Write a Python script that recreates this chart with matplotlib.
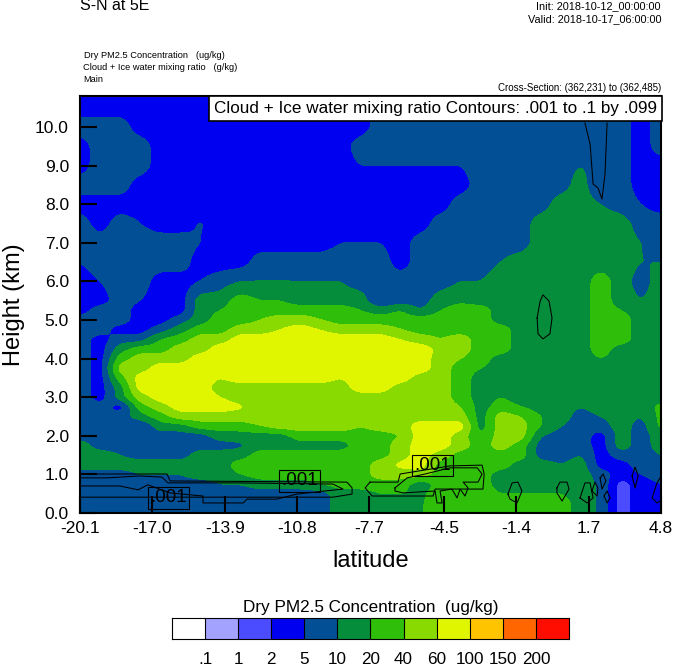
import numpy as np
import matplotlib
matplotlib.use('Agg')
import matplotlib.pyplot as plt

plt.rcParams['font.family'] = ['Liberation Sans', 'DejaVu Sans']

# Colour bar classes
level_values = [0.1, 1, 2, 5, 10, 20, 40, 60, 100, 150, 200]
level_labels = ['.1', '1', '2', '5', '10', '20', '40', '60', '100', '150', '200']
band_colors = ['#ffffff', '#a3a3ff', '#4b4bff', '#0000f0', '#024f96', '#068d3c',
               '#2fbe0a', '#88da00', '#e0f500', '#ffc400', '#ff6600', '#ff0d00']

# Typical concentration for each class
P, B, D, G, L, M, Y = 1.5, 3.5, 7.5, 15, 30, 50, 80

heights = [0, 0.25, 0.5, 0.75, 1, 1.25, 1.5, 1.75, 2, 2.25, 2.5, 2.75, 3, 3.25, 3.5, 3.75, 4,
           4.25, 4.5, 4.75, 5, 5.25, 5.5, 6, 6.5, 7, 7.5, 8, 8.5, 9, 9.5, 10, 10.5, 10.8]
lat_first, lat_last = -20.1, 4.8

# Vertical profiles of PM2.5, one per latitude column, bottom to top
pm_00 = [D, D, D, D, D, G, G, G, D, D, D, D, D, D, D, D, D, D, D, D, D, B, B, B, 5, D, D, B, D, B, B, D, B, B]
pm_01 = [D, D, D, D, D, G, G, D, D, D, D, D, B, B, B, B, B, B, B, D, D, D, B, 5, D, D, B, B, D, D, D, D, B, B]
pm_02 = [D, D, D, D, D, G, 10, D, D, D, D, B, G, G, L, M, L, G, D, B, D, D, D, D, D, D, D, B, D, D, D, D, B, B]
pm_03 = [D, D, D, D, 10, G, D, D, D, 4.8, G, L, M, Y, Y, M, M, L, D, B, B, B, 5, D, D, D, 5, B, B, D, D, B, B, B]
pm_04 = [D, D, D, D, 10, G, D, D, D, G, L, M, Y, Y, Y, Y, M, L, 20, D, B, B, B, B, D, D, B, B, B, B, B, B, B, B]
pm_05 = [D, D, D, D, 10, G, D, D, D, G, M, Y, Y, Y, Y, Y, M, M, L, G, D, B, B, B, D, D, B, B, B, B, B, B, B, B]
pm_06 = [D, D, D, D, G, G, G, D, D, L, M, Y, Y, Y, Y, Y, Y, M, M, L, G, G, G, 5, B, 5, 5.5, B, B, B, B, B, B, B]
pm_07 = [D, D, D, 10, G, G, G, D, G, L, M, Y, 60, M, 60, Y, Y, Y, M, L, L, 20, G, D, B, B, B, B, B, B, B, B, B, B]
pm_08 = [D, D, D, 10, 20, L, G, 9, G, L, M, 65, M, M, Y, Y, Y, Y, Y, M, L, L, L, 10, B, B, B, B, B, B, B, B, B, B]
pm_09 = [D, D, D, G, L, L, L, G, G, 40, M, M, M, M, Y, Y, Y, Y, Y, M, 40, L, 20, 10, D, B, B, B, B, B, B, B, B, B]
pm_10 = [D, D, D, G, L, L, L, G, G, M, M, M, M, M, Y, Y, Y, Y, Y, 60, M, L, 20, 10, D, B, B, B, B, B, B, B, B, B]
pm_11 = [D, D, D, G, L, L, L, G, L, M, M, M, M, M, Y, Y, Y, Y, Y, Y, M, L, G, 10, D, B, B, B, B, B, B, B, B, B]
pm_12 = [D, D, D, 20, L, L, L, G, L, M, M, M, M, M, Y, Y, Y, Y, Y, 60, 40, L, G, 10, D, B, B, B, B, B, B, B, B, B]
pm_13 = [G, G, G, L, L, L, L, G, L, M, M, M, M, M, 60, Y, Y, Y, Y, M, L, L, G, 10, D, 5, B, B, B, B, B, B, B, B]
pm_14 = [G, G, G, L, L, L, L, L, L, 40, M, M, M, Y, Y, Y, Y, Y, Y, M, L, 20, G, D, D, 5, B, B, B, 5, D, B, B, B]
pm_15 = [G, G, 20, L, M, M, L, L, L, M, M, M, M, Y, Y, Y, Y, Y, Y, M, L, G, 4.8, D, D, 5, B, B, B, 5, D, D, D, D]
pm_16 = [G, G, 20, L, M, 70, M, M, 40, M, M, M, M, M, Y, Y, Y, Y, 60, 40, L, 20, D, D, B, B, B, B, B, 5, D, D, D, D]
pm_17 = [19, 19, 18, 13, M, Y, Y, Y, Y, Y, M, M, M, M, M, Y, Y, Y, M, L, L, 10, D, D, D, D, B, B, B, 5, D, D, D, D]
pm_18 = [L, L, L, L, L, L, M, Y, Y, Y, M, M, M, M, M, M, M, 55, 40, L, L, 20, G, D, D, D, D, B, B, 5, D, D, D, D]
pm_19 = [L, L, L, L, L, L, L, M, M, Y, M, 40, L, L, L, L, 40, M, M, L, L, L, 18, 10, D, D, D, D, B, 5, D, D, D, D]
pm_20 = [L, L, L, L, L, L, L, L, 20, G, G, G, G, G, G, 20, L, L, L, L, L, L, G, 10, D, D, D, D, D, D, D, D, D, D]
pm_21 = [L, L, 20, G, G, L, L, M, M, M, M, L, 20, G, G, G, G, L, L, L, G, G, G, G, 10, D, D, D, D, D, D, D, D, D]
pm_22 = [L, L, 20, G, G, G, L, L, M, M, 40, 20, G, G, G, G, G, G, G, G, G, G, G, G, G, D, D, D, D, D, D, D, D, D]
pm_23 = [L, L, 20, G, G, G, D, D, 10, 20, 20, G, G, G, G, G, G, G, G, G, G, G, G, G, G, G, G, D, D, D, D, D, D, D]
pm_24 = [L, L, 20, G, G, 10, D, D, D, 10, G, G, G, G, G, G, G, G, G, G, G, G, G, G, G, G, G, G, D, D, D, D, D, D]
pm_25 = [G, G, G, G, G, G, 10, D, D, D, D, 10, G, G, G, G, G, G, G, G, G, G, G, G, G, G, G, G, G, 10, D, D, D, D]
pm_26 = [9, 9, 9, 9, D, B, B, B, B, D, 10, G, G, G, G, G, 20, L, L, L, L, L, L, L, G, G, G, 10, 4.6, D, D, D, D, D]
pm_27 = [P, P, P, P, B, B, D, G, G, G, G, G, G, G, G, G, G, G, L, L, L, 20, G, G, G, G, G, D, D, D, D, D, D, D]
pm_28 = [B, B, B, B, 5, D, D, D, D, D, 10, G, G, G, G, G, G, G, G, G, G, G, 10, D, 10, 10, D, 5, B, B, B, B, B, B]
pm_29 = [B, B, B, 5, D, D, 10, G, G, 25, 25, 25, G, G, G, G, G, G, G, G, G, G, G, G, 10, D, D, B, B, B, D, D, D, D]
pm_columns = [pm_00, pm_01, pm_02, pm_03, pm_04, pm_05, pm_06, pm_07, pm_08, pm_09,
              pm_10, pm_11, pm_12, pm_13, pm_14, pm_15, pm_16, pm_17, pm_18, pm_19,
              pm_20, pm_21, pm_22, pm_23, pm_24, pm_25, pm_26, pm_27, pm_28, pm_29]

# Cloud + ice contour lines (latitude, height)
cloud_lines = [
    ([-20.1, -16.37, -16.24, -8.66, -8.44, -8.44, -9.26, -20.1],
     [1.01, 1.01, 0.83, 0.80, 0.65, 0.49, 0.41, 0.41]),
    ([-20.1, -18.94, -17.53, -16.59, -16.33, -13.37, -9.26, -8.83, -10.8, -11.66, -12.94, -13.11, -14.83,
      -14.83, -16.24, -17.19, -17.61, -18.39, -20.1],
     [0.91, 0.91, 0.96, 0.93, 0.78, 0.78, 0.75, 0.62, 0.49, 0.36, 0.36, 0.26, 0.26,
      0.44, 0.52, 0.73, 0.60, 0.70, 0.70]),
    ([-7.67, -6.47, -6.38, -4.24, -2.87, -2.78, -2.83, -4.88, -4.97, -7.58, -7.88, -7.67],
     [0.80, 0.80, 1.01, 1.22, 1.24, 1.01, 0.62, 0.62, 0.44, 0.44, 0.65, 0.80]),
    ([-6.6, -6.08, -5.31, -4.24, -3.08, -2.87, -3.04, -3.68, -3.47, -3.6, -3.81, -3.94, -4.16, -4.67, -4.58,
      -4.8, -4.88, -6.26, -6.6, -6.6],
     [0.65, 0.91, 1.01, 1.17, 1.17, 1.01, 0.80, 0.80, 0.65, 0.44, 0.62, 0.39, 0.62, 0.57, 0.26,
      0.26, 0.57, 0.52, 0.57, 0.65]),
    ([-1.76, -1.58, -1.33, -1.16, -1.37, -1.67, -1.76], [0.49, 0.78, 0.80, 0.57, 0.26, 0.36, 0.49]),
    ([0.34, 0.47, 0.77, 0.86, 0.56, 0.34, 0.34], [0.65, 0.80, 0.80, 0.62, 0.31, 0.52, 0.65]),
    ([1.33, 1.54, 1.76, 1.89, 1.63, 1.33], [0.39, 0.78, 0.78, 0.39, 0.26, 0.39]),
    ([1.84, 1.97, 2.1, 2.06, 1.84], [0.57, 0.80, 0.65, 0.44, 0.57]),
    ([2.19, 2.32, 2.44, 2.27, 2.19], [0.91, 1.01, 0.83, 0.62, 0.91]),
    ([2.36, 2.49, 2.62, 2.49, 2.36], [0.44, 0.57, 0.39, 0.26, 0.44]),
    ([3.56, 3.69, 3.82, 3.69, 3.56], [0.96, 1.19, 0.96, 0.65, 0.96]),
    ([4.76, 4.63, 4.42, 4.63, 4.76], [0.91, 0.78, 0.39, 0.26, 0.31]),
    ([-0.51, -0.38, -0.26, 0, 0.13, 0.04, -0.26, -0.47, -0.51],
     [5.05, 5.49, 5.65, 5.49, 5.05, 4.64, 4.51, 4.64, 5.05]),
    ([1.54, 1.76, 1.89, 2.1, 2.27, 2.4, 2.49], [10.1, 9.56, 8.52, 8.42, 8.13, 8.78, 10.1]),
]
cloud_label_lat = [-16.3, -10.7, -5.0]
cloud_label_height = [0.39, 0.83, 1.22]

lat_ticks = [-20.1, -17.0, -13.9, -10.8, -7.7, -4.5, -1.4, 1.7, 4.8]
height_ticks = [0, 1, 2, 3, 4, 5, 6, 7, 8, 9, 10]


def soften(field, taps, axis):
	# Short box filter so the band edges come out round, ends held fixed
	pad = taps // 2
	pad_width = [(0, 0), (0, 0)]
	pad_width[axis] = (pad, pad)
	padded = np.pad(field, pad_width, mode='edge')
	kernel = np.ones(taps) / taps
	return np.apply_along_axis(lambda r: np.convolve(r, kernel, mode='valid'), axis, padded)


def draw_section(ax):
	lats = np.linspace(lat_first, lat_last, len(pm_columns))
	pm = np.array(pm_columns, dtype=float).T
	# Classes are uneven, so contour on the class number
	level_index = np.arange(1, len(level_values) + 1)
	pm_index = np.interp(pm, level_values, level_index)

	# Resample to a 2 px grid for smooth edges
	fine_lats = np.linspace(lat_first, lat_last, 291)
	fine_heights = np.linspace(0, 10.8, 209)
	by_height = np.array([np.interp(fine_heights, heights, col) for col in pm_index.T]).T
	fine = np.array([np.interp(fine_lats, lats, row) for row in by_height])
	fine = soften(soften(fine, 5, 1), 3, 0)
	ax.contourf(fine_lats, fine_heights, fine, levels=np.arange(0, 13), colors=band_colors)

	for line_lat, line_height in cloud_lines:
		ax.plot(line_lat, line_height, color='black', lw=0.75)
	for lat, height in zip(cloud_label_lat, cloud_label_height):
		ax.text(lat, height, '.001', fontsize=13.5, ha='center', va='center',
				bbox=dict(fc='none', ec='black', lw=0.8, pad=1.5))

	ax.set_xlim(lat_first, lat_last)
	ax.set_ylim(0, 10.8)
	ax.set_xticks(lat_ticks)
	ax.set_xticklabels(['%.1f' % t for t in lat_ticks])
	ax.set_yticks(height_ticks)
	ax.set_yticklabels(['%.1f' % t for t in height_ticks])
	ax.tick_params(direction='in', length=12.5, width=1.5, labelsize=12.5, pad=6)
	ax.tick_params(axis='y', pad=8)
	for spine in ax.spines.values():
		spine.set_linewidth(1.5)
	ax.set_xlabel('latitude', fontsize=17, labelpad=10)
	ax.set_ylabel('Height (km)', fontsize=17, labelpad=7)

	ax.text(0.993, 0.988, 'Cloud + Ice water mixing ratio Contours: .001 to .1 by .099',
			transform=ax.transAxes, fontsize=12.3, ha='right', va='top', zorder=5,
			bbox=dict(fc='white', ec='black', lw=1.2, pad=3.5))


def draw_colorbar(cax):
	cells = np.arange(len(band_colors)).reshape(1, -1)
	cax.pcolormesh(np.arange(len(band_colors) + 1), [0, 1], cells,
				   cmap=matplotlib.colors.ListedColormap(band_colors))
	for edge in range(1, len(band_colors)):
		cax.axvline(edge, color='black', lw=0.8)
	cax.set_yticks([])
	cax.set_xticks(range(1, len(band_colors)))
	cax.set_xticklabels(level_labels, fontsize=12.3)
	cax.tick_params(length=0, pad=9.5)
	cax.set_title('Dry PM2.5 Concentration  (ug/kg)', fontsize=12.3, pad=4)


def main():
	fig = plt.figure(figsize=(6.74, 6.68), dpi=100)
	ax = fig.add_axes([80 / 674, 1 - 513 / 668, 581 / 674, 417 / 668])
	draw_section(ax)
	cax = fig.add_axes([172 / 674, 1 - 639 / 668, 397 / 674, 21 / 668])
	draw_colorbar(cax)

	fig.text(80 / 674, 1 - 6 / 668, 'S-N at 5E', fontsize=11.5, ha='left', va='center')
	fig.text(661 / 674, 1 - 6 / 668, 'Init: 2018-10-12_00:00:00', fontsize=7.8, ha='right', va='center')
	fig.text(661 / 674, 1 - 19 / 668, 'Valid: 2018-10-17_06:00:00', fontsize=7.8, ha='right', va='center')
	fig.text(84 / 674, 1 - 56 / 668, 'Dry PM2.5 Concentration   (ug/kg)', fontsize=6.7, ha='left', va='center')
	fig.text(83 / 674, 1 - 67 / 668, 'Cloud + Ice water mixing ratio   (g/kg)', fontsize=6.7, ha='left', va='center')
	fig.text(83 / 674, 1 - 79 / 668, 'Main', fontsize=6.7, ha='left', va='center')
	fig.text(661 / 674, 1 - 88 / 668, 'Cross-Section: (362,231) to (362,485)', fontsize=7, ha='right', va='center')

	fig.savefig('out.png', dpi=100)


if __name__ == "__main__":
    main()
